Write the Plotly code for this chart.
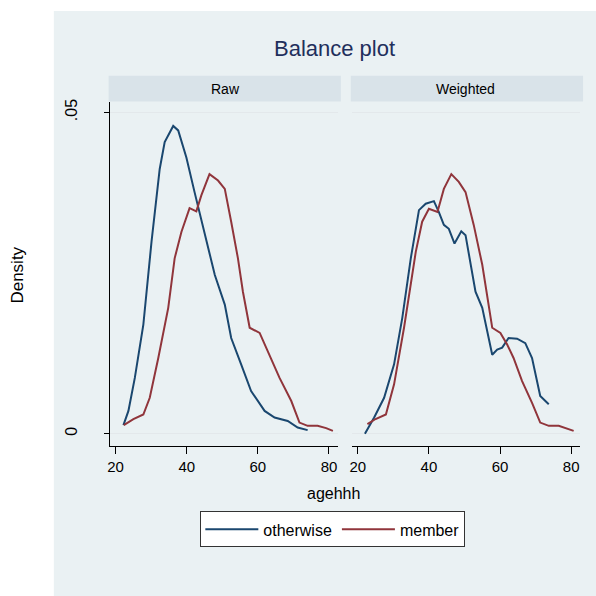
import plotly.graph_objects as go

# ---- data ----
raw_other_x = [22.2, 23.6, 25.4, 27.8, 30.1, 32.4, 33.8, 36.2, 37.6, 39.9, 42.2, 45.0, 47.9, 50.7,
               52.5, 55.3, 58.1, 61.9, 64.7, 68.4, 71.2, 74.0]
raw_other_y = [0.00135, 0.00356, 0.0087, 0.0170, 0.0299, 0.0412, 0.0454, 0.0479, 0.0472, 0.0430,
               0.0376, 0.0314, 0.0247, 0.0201, 0.0149, 0.0108, 0.00666, 0.00356, 0.00253, 0.0020,
               0.00098, 0.00057]

raw_member_x = [22.3, 25.0, 27.8, 29.6, 32.0, 34.8, 36.6, 38.5, 40.8, 42.7, 44.1, 46.4, 48.8, 50.7,
                52.5, 54.4, 55.8, 57.7, 60.5, 62.8, 66.1, 69.4, 71.7, 74.0, 76.8, 79.2, 81.1]
raw_member_y = [0.00135, 0.00227, 0.0030, 0.0056, 0.0118, 0.0196, 0.0273, 0.0314, 0.0351, 0.0346,
                0.0371, 0.0404, 0.0394, 0.0381, 0.0330, 0.0273, 0.0221, 0.0165, 0.0157, 0.0128,
                0.0087, 0.0051, 0.00175, 0.00124, 0.00124, 0.00088, 0.00046]

wtd_other_x = [22.0, 24.6, 27.4, 30.2, 32.5, 34.9, 37.2, 39.1, 41.4, 42.8, 44.2, 45.6, 47.2, 49.1,
               50.3, 51.7, 53.1, 55.0, 56.4, 57.8, 59.2, 60.6, 62.4, 64.8, 67.1, 69.0, 71.3, 73.7]
wtd_other_y = [0.0, 0.00253, 0.0056, 0.0108, 0.0180, 0.0273, 0.0348, 0.0358, 0.0362, 0.0345,
               0.0325, 0.0319, 0.0296, 0.0315, 0.0309, 0.0268, 0.0221, 0.0196, 0.0159, 0.0123,
               0.0131, 0.0134, 0.0149, 0.0148, 0.0141, 0.0118, 0.0059, 0.0046]

wtd_member_x = [22.7, 25.0, 27.9, 30.2, 33.0, 36.3, 38.1, 40.0, 42.4, 44.2, 46.3, 48.4, 50.3, 52.6,
                55.0, 56.4, 57.8, 60.1, 62.0, 63.8, 66.2, 69.0, 71.3, 73.7, 76.5, 80.7]
wtd_member_y = [0.0015, 0.0023, 0.0030, 0.0077, 0.0165, 0.0283, 0.0330, 0.0350, 0.0345, 0.0381,
                0.0404, 0.0392, 0.0376, 0.0325, 0.0263, 0.0211, 0.0165, 0.0157, 0.0139, 0.0118,
                0.0082, 0.0048, 0.00175, 0.00124, 0.00124, 0.00046]

panel_titles = ["Raw", "Weighted"]
series_names = ["otherwise", "member"]
x_tickvals = [20, 40, 60, 80]
y_tickvals = [0, 0.05]
y_ticktext = ["0", ".05"]

# ---- style ----
W = H = 596
BLUE = "#1A476F"
RED = "#90353B"
BG = "#EAF1F3"
STRIP = "#D9E3E9"
FONT = "Liberation Sans, Arial, sans-serif"

def px(v):
    return v / W

def py(v):
    return 1 - v / H

fig = go.Figure()
fig.add_trace(go.Scatter(x=raw_other_x, y=raw_other_y, mode="lines", name=series_names[0],
                         line=dict(color=BLUE, width=2), xaxis="x", yaxis="y", legendgroup="o"))
fig.add_trace(go.Scatter(x=raw_member_x, y=raw_member_y, mode="lines", name=series_names[1],
                         line=dict(color=RED, width=2), xaxis="x", yaxis="y", legendgroup="m"))
fig.add_trace(go.Scatter(x=wtd_other_x, y=wtd_other_y, mode="lines", name=series_names[0],
                         line=dict(color=BLUE, width=2), xaxis="x2", yaxis="y2",
                         legendgroup="o", showlegend=False))
fig.add_trace(go.Scatter(x=wtd_member_x, y=wtd_member_y, mode="lines", name=series_names[1],
                         line=dict(color=RED, width=2), xaxis="x2", yaxis="y2",
                         legendgroup="m", showlegend=False))

xr = [18.32, 82.5]
yr = [-0.00186, 0.0517]
ydom = [py(445), py(99)]

xcommon = dict(range=xr, tickvals=x_tickvals, ticks="outside", ticklen=7, tickcolor="black",
               showline=True, linecolor="black", linewidth=1, showgrid=False, zeroline=False,
               tickfont=dict(family=FONT, size=15, color="black"))

fig.update_layout(
    width=W, height=H,
    margin=dict(l=0, r=0, t=0, b=0),
    paper_bgcolor="white",
    plot_bgcolor="white",
    showlegend=True,
    xaxis=dict(domain=[px(108), px(337)], anchor="y", **xcommon),
    xaxis2=dict(domain=[px(351), px(580)], anchor="y2", **xcommon),
    yaxis=dict(domain=ydom, range=yr, tickvals=y_tickvals, ticktext=y_ticktext,
               ticks="outside", ticklen=5, tickcolor="black", tickangle=-90,
               ticklabelstandoff=20,
               showline=True, linecolor="black", linewidth=1,
               showgrid=True, gridcolor="#E3E8EB", gridwidth=1, zeroline=False,
               tickfont=dict(family=FONT, size=16, color="black"), anchor="x"),
    yaxis2=dict(domain=ydom, range=yr, tickvals=y_tickvals, showticklabels=False,
                ticks="", showline=False, showgrid=True, gridcolor="#E3E8EB", gridwidth=1,
                zeroline=False, anchor="x2", matches="y"),
    legend=dict(orientation="h", x=px(199), xanchor="left", y=py(511), yanchor="top",
                bgcolor="white", bordercolor="#333333", borderwidth=1,
                font=dict(family=FONT, size=16, color="black"),
                itemwidth=53, tracegroupgap=0),
    shapes=[
        dict(type="rect", xref="paper", yref="paper", x0=px(52), x1=1, y0=0, y1=py(8),
             fillcolor=BG, line=dict(width=0), layer="below"),
        dict(type="rect", xref="paper", yref="paper", x0=px(107), x1=px(340), y0=py(99), y1=py(73),
             fillcolor=STRIP, line=dict(width=0), layer="below"),
        dict(type="rect", xref="paper", yref="paper", x0=px(350), x1=px(583), y0=py(99), y1=py(73),
             fillcolor=STRIP, line=dict(width=0), layer="below"),
    ],
    annotations=[
        dict(text="Balance plot", xref="paper", yref="paper", x=px(334), y=py(46),
             showarrow=False, font=dict(family=FONT, size=22, color="#1F2F5C"),
             xanchor="center", yanchor="middle"),
        dict(text=panel_titles[0], xref="paper", yref="paper", x=px(224), y=py(86),
             showarrow=False, font=dict(family=FONT, size=14, color="black"),
             xanchor="center", yanchor="middle"),
        dict(text=panel_titles[1], xref="paper", yref="paper", x=px(465), y=py(86),
             showarrow=False, font=dict(family=FONT, size=14, color="black"),
             xanchor="center", yanchor="middle"),
        dict(text="agehhh", xref="paper", yref="paper", x=px(333), y=py(493),
             showarrow=False, font=dict(family=FONT, size=16, color="black"),
             xanchor="center", yanchor="middle"),
        dict(text="Density", xref="paper", yref="paper", x=px(16), y=py(273),
             showarrow=False, textangle=-90, font=dict(family=FONT, size=17, color="black"),
             xanchor="center", yanchor="middle"),
    ],
)

fig.write_html("out.html")
